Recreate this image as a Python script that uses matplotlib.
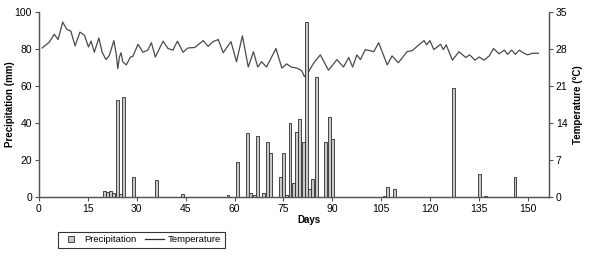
import matplotlib
matplotlib.use('Agg')
import matplotlib.pyplot as plt
from matplotlib.lines import Line2D

plt.rcParams['font.family'] = ['Liberation Sans Narrow', 'Liberation Sans', 'DejaVu Sans']

# daily precipitation (mm)
rain_days = [20, 21, 22, 23, 24, 25, 26, 29, 36, 44, 58, 61, 64, 65, 66, 67, 69, 70, 71,
             74, 75, 76, 77, 78, 79, 80, 81, 82, 83, 84, 85, 88, 89, 90, 106, 107, 109,
             127, 135, 137, 146]
rain_mm = [3.4, 2.5, 3.5, 2.3, 52.4, 1.4, 54.2, 10.6, 9.0, 1.5, 1.0, 19.1, 34.4, 2.0, 1.0, 33.0,
           2.0, 30.0, 24.0, 11.0, 23.6, 1.0, 40.0, 7.4, 35.0, 42.0, 30.0, 94.4, 4.5, 9.5, 65.0,
           30.0, 43.0, 31.4, 0.5, 5.5, 4.5, 58.7, 12.3, 0.5, 10.6]

# temperature (°C)
temp_days = [1, 3.2, 4.7, 5.9, 7.3, 8.6, 9.8, 11.1, 12.6, 14, 15.2, 16, 17, 18.4, 19.4, 20.6,
             21.6, 23, 23.7, 24.2, 24.7, 25.2, 25.7, 26.8, 28.1, 28.8, 30.4, 31.9, 33.4, 34.5,
             35.7, 38.1, 39.6, 41.1, 42.5, 44.2, 45.7, 47.8, 50.4, 51.9, 53.4, 55, 56.5, 58.9,
             60.6, 62.4, 64.2, 65.8, 67.1, 68.3, 69.8, 72.7, 74.5, 76, 77.3, 79.1, 80.6, 81.4,
             82.7, 84.2, 86.3, 88.8, 91.4, 93.4, 95, 96.2, 97.5, 98.6, 100.1, 102.7, 104.2,
             106.8, 108.3, 110.2, 112.9, 114.5, 116.5, 118.1, 118.9, 119.9, 121.1, 123.2, 124,
             124.9, 126.8, 128.8, 130.9, 132.1, 133.7, 135, 136.5, 138.1, 139.4, 141.1, 142.7,
             143.7, 145, 146.1, 147.3, 148.5, 149.8, 151.4, 153.2]
temp_c = [28.2, 29.3, 30.8, 29.8, 33.1, 31.7, 31.4, 28.6, 31.2, 30.6, 28.4, 29.5, 27.4, 30.1,
          27.4, 26.0, 26.8, 29.6, 27.1, 24.3, 26.5, 27.3, 25.6, 25.0, 26.5, 26.6, 28.9, 27.4,
          27.8, 29.2, 26.5, 29.5, 28.1, 27.8, 29.5, 27.4, 28.2, 28.3, 29.6, 28.5, 29.4, 29.8,
          27.3, 29.4, 25.6, 30.5, 24.6, 27.5, 24.6, 25.6, 24.6, 28.1, 24.4, 25.2, 24.6, 24.4,
          23.9, 22.8, 23.7, 25.3, 26.9, 24.0, 26.0, 24.6, 26.4, 24.6, 26.9, 26.0, 27.9, 27.5,
          29.2, 25.0, 26.7, 25.4, 27.5, 27.7, 28.8, 29.6, 28.8, 29.6, 27.9, 28.9, 27.9, 28.8,
          25.9, 27.5, 26.4, 26.9, 25.9, 26.5, 25.9, 26.7, 28.1, 27.1, 27.8, 27.0, 27.8, 27.0,
          27.8, 27.3, 26.9, 27.2, 27.2]

fig = plt.figure(figsize=(5.89, 2.62), dpi=100)
ax = fig.add_axes([0.066, 0.248, 0.866, 0.706])
ax2 = ax.twinx()

# line sits below the bars
ax2.set_zorder(ax.get_zorder() - 1)
ax.patch.set_visible(False)

ax2.plot(temp_days, temp_c, color='#4a4a4a', lw=0.9)
ax.bar(rain_days, rain_mm, width=0.9, color='#c8c8c8', edgecolor='#2a2a2a', linewidth=0.6)

ax.set_xlim(0, 156.4)
ax.set_ylim(0, 100)
ax2.set_ylim(0, 35)
ax.set_xticks(range(0, 151, 15))
ax.set_yticks(range(0, 101, 20))
ax2.set_yticks(range(0, 36, 7))

for a in (ax, ax2):
    a.spines['top'].set_visible(False)
    for s in ('left', 'right', 'bottom'):
        a.spines[s].set_color('#555555')
        a.spines[s].set_linewidth(0.9)
    a.tick_params(labelsize=7.5, length=3, width=0.8, color='#555555', pad=2)

ax.set_ylabel('Precipitation (mm)', fontsize=7, fontweight='bold', labelpad=0)
ax2.set_ylabel('Temperature (°C)', fontsize=7, fontweight='bold', labelpad=4)
ax.set_xlabel('Days', fontsize=7, fontweight='bold')
ax.xaxis.set_label_coords(0.53, -0.095)

handles = [Line2D([], [], marker='s', ls='none', markersize=5, markerfacecolor='#c8c8c8',
                  markeredgecolor='#2a2a2a', markeredgewidth=0.6),
           Line2D([], [], color='#2a2a2a', lw=0.9)]
leg = fig.legend(handles, ['Precipitation', 'Temperature'], loc='lower left',
                 bbox_to_anchor=(0.09, 0.035), ncol=2, fontsize=6.8, frameon=True,
                 fancybox=False, edgecolor='black', handlelength=2.0, columnspacing=0.9,
                 borderpad=0.4, handletextpad=0.4)
leg.get_frame().set_linewidth(0.8)

fig.savefig('out.png', dpi=100)
